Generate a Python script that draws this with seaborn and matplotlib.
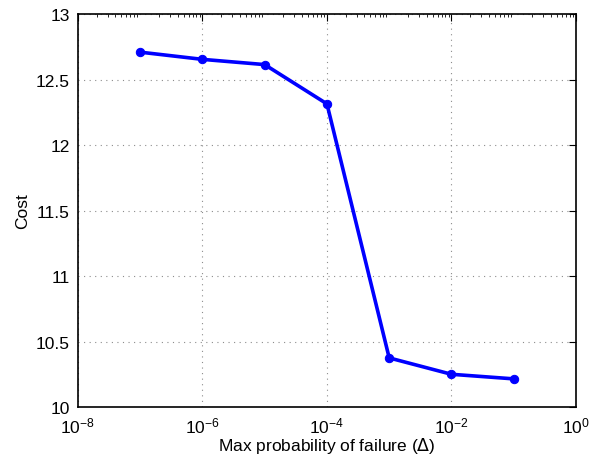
import matplotlib
matplotlib.use("Agg")
import matplotlib.pyplot as plt
import seaborn as sns
import numpy as np
from matplotlib.ticker import LogLocator

# data
max_fail_prob = [1e-7, 1e-6, 1e-5, 1e-4, 1e-3, 1e-2, 1e-1]
cost = [12.71, 12.655, 12.615, 12.315, 10.375, 10.25, 10.215]
x_ticks = [1e-8, 1e-6, 1e-4, 1e-2, 1e0]
y_ticks = [10, 10.5, 11, 11.5, 12, 12.5, 13]

sns.set_style("white")
plt.rcParams["font.family"] = ["Liberation Sans", "DejaVu Sans"]
plt.rcParams["text.color"] = "black"
plt.rcParams["axes.labelcolor"] = "black"
plt.rcParams["xtick.color"] = "black"
plt.rcParams["ytick.color"] = "black"

fig = plt.figure(figsize=(5.99, 4.6), dpi=100)
ax = fig.add_axes([0.130, 0.113, 0.8316, 0.854])

sns.lineplot(x=max_fail_prob, y=cost, ax=ax, color="#0000ff", linewidth=2.6,
             marker="o", markersize=6, markeredgecolor="#0000ff")
ax.set_xscale("log")
ax.set_xlim(1e-8, 1e0)
ax.set_ylim(10, 13)
ax.set_xticks(x_ticks)
ax.set_yticks(y_ticks)
ax.set_yticklabels(["10", "10.5", "11", "11.5", "12", "12.5", "13"])
ax.xaxis.set_minor_locator(LogLocator(base=10, subs=np.arange(2, 10), numticks=20))

ax.grid(True, which="major", linestyle=(0, (1, 4)), color="#8c8c8c", linewidth=0.8)
ax.tick_params(which="both", direction="in", top=True, right=True, labelsize=12.5,
               color="black", labelcolor="black")
ax.tick_params(which="major", length=5, width=0.8)
ax.tick_params(which="minor", length=2.5, width=0.6)
ax.tick_params(axis="x", which="major", pad=6)
ax.tick_params(axis="y", which="major", pad=6)
for s in ax.spines.values():
    s.set_color("black")
    s.set_linewidth(1.2)

ax.set_xlabel("Max probability of failure ($\\Delta$)", fontsize=12.5, labelpad=0)
ax.set_ylabel("Cost", fontsize=12.5, labelpad=4)

fig.savefig("out.png", dpi=100)
